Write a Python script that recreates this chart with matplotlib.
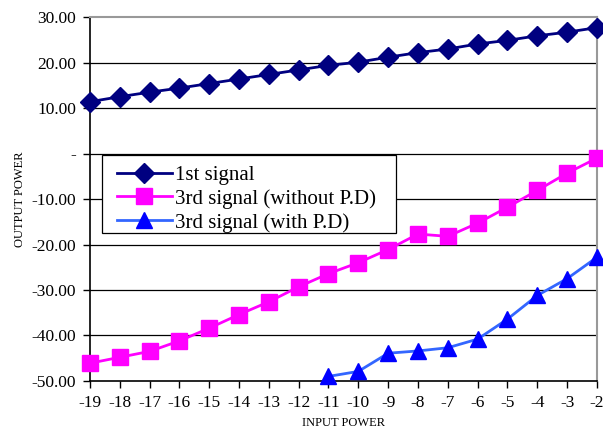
import matplotlib
matplotlib.use("Agg")
import matplotlib.pyplot as plt
from matplotlib.patches import Rectangle

input_power = [-19, -18, -17, -16, -15, -14, -13, -12, -11, -10, -9, -8, -7, -6, -5, -4, -3, -2]
first_signal = [11.4, 12.5, 13.5, 14.4, 15.4, 16.4, 17.4, 18.4, 19.4, 20.1, 21.2, 22.2, 23.0, 24.1, 24.9, 25.9, 26.7, 27.7]
third_no_pd = [-46.1, -44.8, -43.5, -41.2, -38.4, -35.4, -32.6, -29.3, -26.4, -24.0, -21.1, -17.7, -18.2, -15.3, -11.8, -8.1, -4.3, -1.0]
pd_x = [-11, -10, -9, -8, -7, -6, -5, -4, -3, -2]
third_pd = [-49.0, -47.9, -43.9, -43.4, -42.7, -40.8, -36.4, -31.2, -27.5, -22.8]
y_ticks = [30, 20, 10, 0, -10, -20, -30, -40, -50]
y_labels = ["30.00", "20.00", "10.00", "-", "-10.00", "-20.00", "-30.00", "-40.00", "-50.00"]

plt.rcParams['font.family'] = ['Liberation Serif', 'DejaVu Serif']

fig = plt.figure(figsize=(6.03, 4.29), dpi=100)
ax = fig.add_axes([0.149, 0.112, 0.841, 0.848])

for v in y_ticks[1:-1]:
    ax.axhline(v, color='black', lw=0.9, zorder=1)

ax.plot(input_power, first_signal, color='#000080', marker='D', markersize=10,
        lw=2, label='1st signal', zorder=3, clip_on=False)
ax.plot(input_power, third_no_pd, color='#FF00FF', marker='s', markersize=11,
        lw=2, label='3rd signal (without P.D)', zorder=3, clip_on=False)
ax.plot(pd_x, third_pd, color='#3366FF', marker='^', markersize=11,
        markerfacecolor='#0000FF', markeredgecolor='#0000FF',
        lw=2, label='3rd signal (with P.D)', zorder=3, clip_on=False)

ax.set_xlim(-19, -2)
ax.set_ylim(-50, 30)
ax.set_xticks(input_power)
ax.set_xticklabels([str(v) for v in input_power], fontsize=12.5)
ax.set_yticks(y_ticks)
ax.set_yticklabels(y_labels, fontsize=12.5)
ax.tick_params(axis='both', direction='out', length=5, width=1, colors='black', pad=5)

for side in ['top', 'right']:
    ax.spines[side].set_color('#999999')
    ax.spines[side].set_linewidth(1.5)
for side in ['left', 'bottom']:
    ax.spines[side].set_color('black')
    ax.spines[side].set_linewidth(1.2)

ax.set_xlabel("INPUT POWER", fontsize=9)
ax.set_ylabel("OUTPUT POWER", fontsize=9)
ax.xaxis.set_label_coords(0.5, -0.1)
ax.yaxis.set_label_coords(-0.126, 0.5)

# legend box drawn separately so the padding matches the original
box = Rectangle((0.0237, 0.4066), 0.58, 0.214, transform=ax.transAxes,
                facecolor='white', edgecolor='black', lw=0.9, zorder=4)
ax.add_patch(box)
leg = ax.legend(loc='upper left', bbox_to_anchor=(0.053, 0.593), fontsize=15,
                frameon=False, borderpad=0, labelspacing=0.2,
                handlelength=2.65, handletextpad=0.15, borderaxespad=0)
leg.set_zorder(5)

fig.savefig("out.png", dpi=100)
